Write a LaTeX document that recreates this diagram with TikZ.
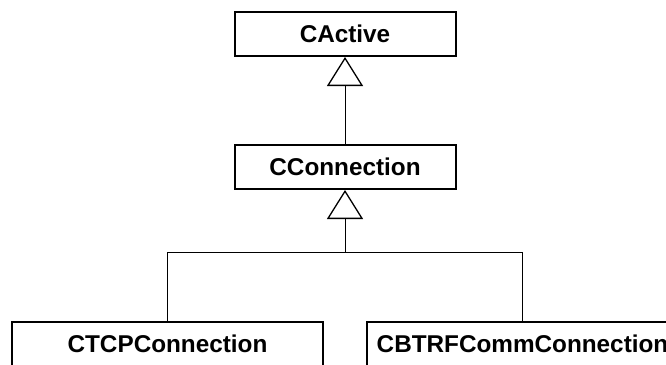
\documentclass[tikz,border=0pt]{standalone}
\usepackage{fontspec}
\setmainfont{Liberation Sans}
\usetikzlibrary{arrows.meta}
\begin{document}
\begin{tikzpicture}[x=1pt,y=-1pt,
  classbox/.style={draw, line width=2pt, minimum height=44pt, inner xsep=2pt, inner ysep=0pt,
    font=\fontsize{24.3}{29}\selectfont\bfseries},
  wide/.style={minimum width=221pt},
  widest/.style={minimum width=311pt},
  inherit/.style={line width=1pt, -{Triangle[open, length=29pt, width=36pt, line width=1.3pt]}}]
  \useasboundingbox (0,0) rectangle (666,364);
  \node[classbox, wide] (active) at (345,34) {CActive};
  \node[classbox, wide] (conn) at (345,167) {CConnection};
  \node[classbox, widest] (tcp) at (167.5,344) {CTCPConnection};
  \node[classbox, widest] (btrf) at (522.5,344) {CBTRFCommConnection};
  \coordinate (join) at (345,252);
  \draw[inherit] (conn.north) -- (active.south);
  \draw[line width=1pt] (tcp.north) |- (btrf.north |- join) -- (btrf.north);
  \draw[inherit] (join) -- (conn.south);
\end{tikzpicture}
\end{document}
